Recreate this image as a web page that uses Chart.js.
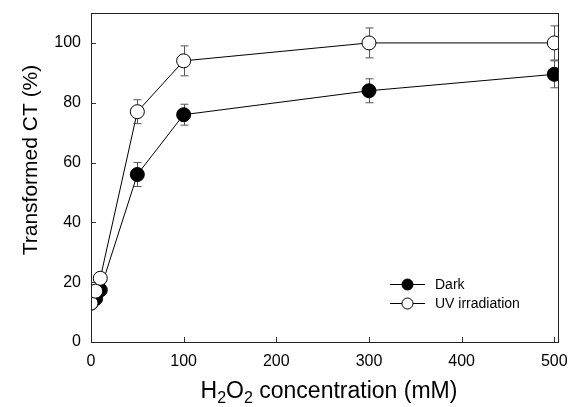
<!DOCTYPE html>
<html>
<head>
<meta charset="utf-8">
<script src="https://cdn.jsdelivr.net/npm/chart.js@4.4.1/dist/chart.umd.min.js"></script>
<style>
  html, body { margin: 0; padding: 0; background: #fff; }
  #wrap { width: 569px; height: 407px; }
</style>
</head>
<body>
<div id="wrap"><canvas id="h2o2Chart"></canvas></div>
<script>
const concentrations = [0, 5, 10, 50, 100, 300, 500];

const darkValues = [13, 14.5, 17.4, 56, 76, 84, 89.5];
const darkErrors = [0, 0, 0, 4, 3.5, 4, 4.5];

const uvValues = [13, 17, 21.3, 77, 94, 100, 100];
const uvErrors = [0, 0, 0, 4, 5, 5, 5.7];

const xTicks = [0, 100, 200, 300, 400, 500];
const yTicks = [0, 20, 40, 60, 80, 100];

const fontFamily = "'Liberation Sans', Arial, sans-serif";

function toPoints(values) {
  return concentrations.map((x, i) => ({ x: x, y: values[i] }));
}

// error bars, inner ticks, frame, axis titles and legend
const extras = {
  id: "extras",
  beforeDatasetsDraw(chart) {
    const ctx = chart.ctx;
    const xs = chart.scales.x;
    const ys = chart.scales.y;
    ctx.save();
    ctx.strokeStyle = "#555";
    ctx.lineWidth = 1;
    [[darkValues, darkErrors], [uvValues, uvErrors]].forEach(([vals, errs]) => {
      vals.forEach((v, i) => {
        if (!errs[i]) return;
        const px = Math.round(xs.getPixelForValue(concentrations[i])) + 0.5;
        const top = ys.getPixelForValue(v + errs[i]);
        const bot = ys.getPixelForValue(v - errs[i]);
        ctx.beginPath();
        ctx.moveTo(px, top); ctx.lineTo(px, bot);
        ctx.moveTo(px - 4, top); ctx.lineTo(px + 4, top);
        ctx.moveTo(px - 4, bot); ctx.lineTo(px + 4, bot);
        ctx.stroke();
      });
    });
    ctx.restore();
  },
  afterDraw(chart) {
    const ctx = chart.ctx;
    const a = chart.chartArea;
    const xs = chart.scales.x;
    const ys = chart.scales.y;
    ctx.save();
    ctx.strokeStyle = "#333";
    ctx.lineWidth = 1;
    ctx.beginPath();
    xTicks.forEach(v => {
      const px = Math.round(xs.getPixelForValue(v)) + 0.5;
      ctx.moveTo(px, a.bottom); ctx.lineTo(px, a.bottom - 5);
    });
    yTicks.forEach(v => {
      const py = Math.round(ys.getPixelForValue(v)) + 0.5;
      ctx.moveTo(a.left, py); ctx.lineTo(a.left + 5, py);
    });
    ctx.stroke();
    ctx.strokeStyle = "#222";
    ctx.strokeRect(Math.round(a.left) + 0.5, Math.round(a.top) + 0.5,
      Math.round(a.right - a.left), Math.round(a.bottom - a.top));

    ctx.fillStyle = "#000";

    // y title
    ctx.save();
    ctx.translate(31, 160);
    ctx.rotate(-Math.PI / 2);
    ctx.font = "21px " + fontFamily;
    ctx.textAlign = "center";
    ctx.textBaseline = "middle";
    ctx.fillText("Transformed CT (%)", 0, 0);
    ctx.restore();

    // x title with subscripts
    const big = "23px " + fontFamily;
    const small = "16px " + fontFamily;
    const parts = [
      { t: "H", f: big, dy: 0 },
      { t: "2", f: small, dy: 5 },
      { t: "O", f: big, dy: 0 },
      { t: "2", f: small, dy: 5 },
      { t: " concentration (mM)", f: big, dy: 0 }
    ];
    let total = 0;
    parts.forEach(p => { ctx.font = p.f; p.w = ctx.measureText(p.t).width; total += p.w; });
    let cx = 329 - total / 2;
    ctx.textAlign = "left";
    ctx.textBaseline = "alphabetic";
    parts.forEach(p => {
      ctx.font = p.f;
      ctx.fillText(p.t, cx, 398 + p.dy);
      cx += p.w;
    });

    // legend
    const items = [
      { label: "Dark", fill: "#000", y: 284 },
      { label: "UV irradiation", fill: "#fff", y: 303 }
    ];
    ctx.font = "14px " + fontFamily;
    ctx.textBaseline = "middle";
    items.forEach(it => {
      ctx.strokeStyle = "#000";
      ctx.beginPath();
      ctx.moveTo(390, it.y + 0.5); ctx.lineTo(425, it.y + 0.5);
      ctx.stroke();
      ctx.beginPath();
      ctx.arc(407.5, it.y + 0.5, 5.5, 0, Math.PI * 2);
      ctx.fillStyle = it.fill;
      ctx.fill();
      ctx.stroke();
      ctx.fillStyle = "#000";
      ctx.fillText(it.label, 435, it.y + 1);
    });
    ctx.restore();
  }
};

new Chart("h2o2Chart", {
  type: "scatter",
  data: {
    datasets: [
      {
        label: "Dark",
        data: toPoints(darkValues),
        showLine: true,
        borderColor: "#000",
        borderWidth: 1,
        backgroundColor: "#000",
        pointRadius: 7,
        pointBorderColor: "#000",
        pointBorderWidth: 1,
        order: 1
      },
      {
        label: "UV irradiation",
        data: toPoints(uvValues),
        showLine: true,
        borderColor: "#000",
        borderWidth: 1,
        backgroundColor: "#fff",
        pointRadius: 7,
        pointBorderColor: "#000",
        pointBorderWidth: 1,
        order: 0
      }
    ]
  },
  options: {
    responsive: true,
    maintainAspectRatio: false,
    animation: false,
    layout: { padding: { top: 13, right: 11, left: 0, bottom: 0 } },
    plugins: {
      legend: { display: false },
      tooltip: { enabled: false }
    },
    scales: {
      x: {
        type: "linear",
        min: 0,
        max: 504,
        afterBuildTicks: s => { s.ticks = xTicks.map(v => ({ value: v })); },
        afterFit: s => { s.height = 65; s.paddingLeft = 0; s.paddingRight = 0; },
        grid: { display: false, drawTicks: false },
        border: { display: false },
        ticks: { color: "#000", font: { size: 16, family: fontFamily }, padding: 10, maxRotation: 0 },
        title: { display: false }
      },
      y: {
        min: 0,
        max: 110,
        afterBuildTicks: s => { s.ticks = yTicks.map(v => ({ value: v })); },
        afterFit: s => { s.width = 91; s.paddingTop = 0; s.paddingBottom = 0; },
        grid: { display: false, drawTicks: false },
        border: { display: false },
        ticks: { color: "#000", font: { size: 16, family: fontFamily }, padding: 10 },
        title: { display: false }
      }
    }
  },
  plugins: [extras]
});
</script>
</body>
</html>
